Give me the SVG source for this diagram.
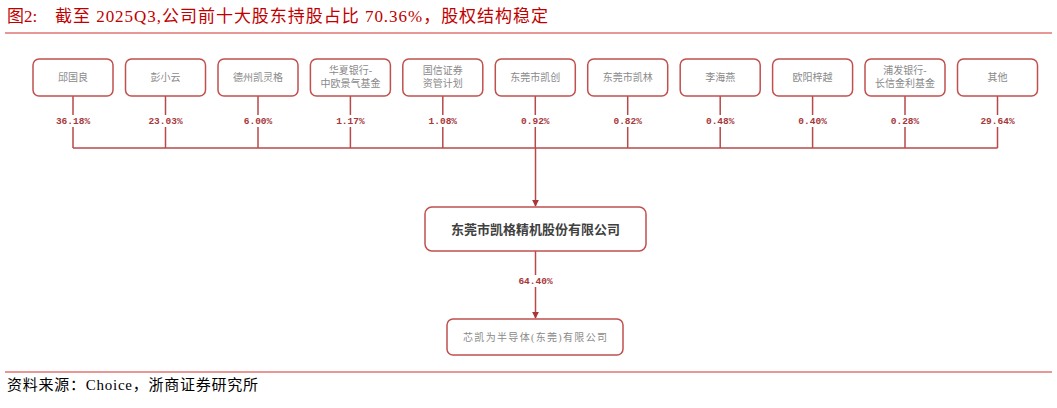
<svg xmlns="http://www.w3.org/2000/svg" width="1057" height="408" viewBox="0 0 1057 408">
<style>
.box{fill:#fff;stroke:#C0504D;stroke-width:1.5}
.lbl{font-family:"Liberation Serif","Noto Sans CJK SC",serif;font-size:10px;fill:#8a8a8a;text-anchor:middle}
.pct{font-family:"Liberation Mono","Noto Sans CJK SC",monospace;font-size:9.5px;font-weight:bold;fill:#A6373A;text-anchor:middle}
.ln{stroke:#B8494B;stroke-width:1.5;fill:none}
.bg{fill:#fff}
</style>
<defs>
<marker id="arr" viewBox="0 0 10 10" refX="9" refY="5" markerWidth="7" markerHeight="7" orient="auto" markerUnits="userSpaceOnUse">
<path d="M0,0 L10,5 L0,10 z" fill="#A6373A"/>
</marker>
</defs>
<rect width="1057" height="408" fill="#fff"/>
<text x="7" y="22" font-family="'Liberation Serif','Noto Sans CJK SC',serif" font-size="17" fill="#C00000">图2:</text>
<text x="55" y="22" font-family="'Liberation Serif','Noto Sans CJK SC',serif" font-size="17" fill="#C00000" textLength="493" lengthAdjust="spacing">截至 2025Q3,公司前十大股东持股占比 70.36%，股权结构稳定</text>
<line x1="5" y1="33" x2="1052" y2="33" stroke="#D32F2F" stroke-width="1.2"/>

<g id="connectors">
<path class="ln" d="M73,96V148M165.5,96V148M258,96V148M350.4,96V148M442.8,96V148M535.3,96V148M627.7,96V148M720.2,96V148M812.6,96V148M905,96V148M997.5,96V148M73,148H997.5"/>
<path class="ln" d="M535.5,148V206" marker-end="url(#arr)"/>
<path class="ln" d="M535.5,251V318" marker-end="url(#arr)"/>
<g>
<rect class="bg" x="50" y="115" width="46" height="12"/>
<rect class="bg" x="142" y="115" width="46" height="12"/>
<rect class="bg" x="235" y="115" width="46" height="12"/>
<rect class="bg" x="327" y="115" width="46" height="12"/>
<rect class="bg" x="420" y="115" width="46" height="12"/>
<rect class="bg" x="512" y="115" width="46" height="12"/>
<rect class="bg" x="605" y="115" width="46" height="12"/>
<rect class="bg" x="697" y="115" width="46" height="12"/>
<rect class="bg" x="790" y="115" width="46" height="12"/>
<rect class="bg" x="882" y="115" width="46" height="12"/>
<rect class="bg" x="974" y="115" width="46" height="12"/>
<rect class="bg" x="512" y="275" width="46" height="12"/>
</g>
<text class="pct" x="73" y="124">36.18%</text>
<text class="pct" x="165.5" y="124">23.03%</text>
<text class="pct" x="258" y="124">6.00%</text>
<text class="pct" x="350.4" y="124">1.17%</text>
<text class="pct" x="442.8" y="124">1.08%</text>
<text class="pct" x="535.3" y="124">0.92%</text>
<text class="pct" x="627.7" y="124">0.82%</text>
<text class="pct" x="720.2" y="124">0.48%</text>
<text class="pct" x="812.6" y="124">0.40%</text>
<text class="pct" x="905" y="124">0.28%</text>
<text class="pct" x="997.5" y="124">29.64%</text>
<text class="pct" x="535.5" y="284">64.40%</text>
</g>

<g id="n1"><rect class="box" x="33" y="59" width="80" height="37" rx="6"/><text class="lbl" x="73" y="81">邱国良</text></g>
<g id="n2"><rect class="box" x="125.5" y="59" width="80" height="37" rx="6"/><text class="lbl" x="165.5" y="81">彭小云</text></g>
<g id="n3"><rect class="box" x="218" y="59" width="80" height="37" rx="6"/><text class="lbl" x="258" y="81">德州凯灵格</text></g>
<g id="n4"><rect class="box" x="310.4" y="59" width="80" height="37" rx="6"/><text class="lbl" x="350.4" y="74">华夏银行-</text><text class="lbl" x="350.4" y="87">中欧景气基金</text></g>
<g id="n5"><rect class="box" x="402.8" y="59" width="80" height="37" rx="6"/><text class="lbl" x="442.8" y="74">国信证券</text><text class="lbl" x="442.8" y="87">资管计划</text></g>
<g id="n6"><rect class="box" x="495.3" y="59" width="80" height="37" rx="6"/><text class="lbl" x="535.3" y="81">东莞市凯创</text></g>
<g id="n7"><rect class="box" x="587.7" y="59" width="80" height="37" rx="6"/><text class="lbl" x="627.7" y="81">东莞市凯林</text></g>
<g id="n8"><rect class="box" x="680.2" y="59" width="80" height="37" rx="6"/><text class="lbl" x="720.2" y="81">李海燕</text></g>
<g id="n9"><rect class="box" x="772.6" y="59" width="80" height="37" rx="6"/><text class="lbl" x="812.6" y="81">欧阳梓越</text></g>
<g id="n10"><rect class="box" x="865" y="59" width="80" height="37" rx="6"/><text class="lbl" x="905" y="74">浦发银行-</text><text class="lbl" x="905" y="87">长信金利基金</text></g>
<g id="n11"><rect class="box" x="957.5" y="59" width="80" height="37" rx="6"/><text class="lbl" x="997.5" y="81">其他</text></g>

<g id="main"><rect class="box" x="425" y="207" width="221" height="44" rx="7"/><text x="535.5" y="234" text-anchor="middle" font-family="'Liberation Serif','Noto Sans CJK SC',serif" font-size="13" font-weight="bold" fill="#404040">东莞市凯格精机股份有限公司</text></g>
<g id="sub"><rect class="box" x="447" y="319" width="176" height="36" rx="6"/><text class="lbl" x="535" y="341" font-size="12" textLength="144" lengthAdjust="spacing">芯凯为半导体(东莞)有限公司</text></g>

<line x1="5" y1="372" x2="1052" y2="372" stroke="#D32F2F" stroke-width="1.2"/>
<text x="7" y="390" font-family="'Liberation Serif','Noto Sans CJK SC',serif" font-size="15" fill="#000" textLength="251" lengthAdjust="spacing">资料来源：Choice，浙商证券研究所</text>
</svg>
